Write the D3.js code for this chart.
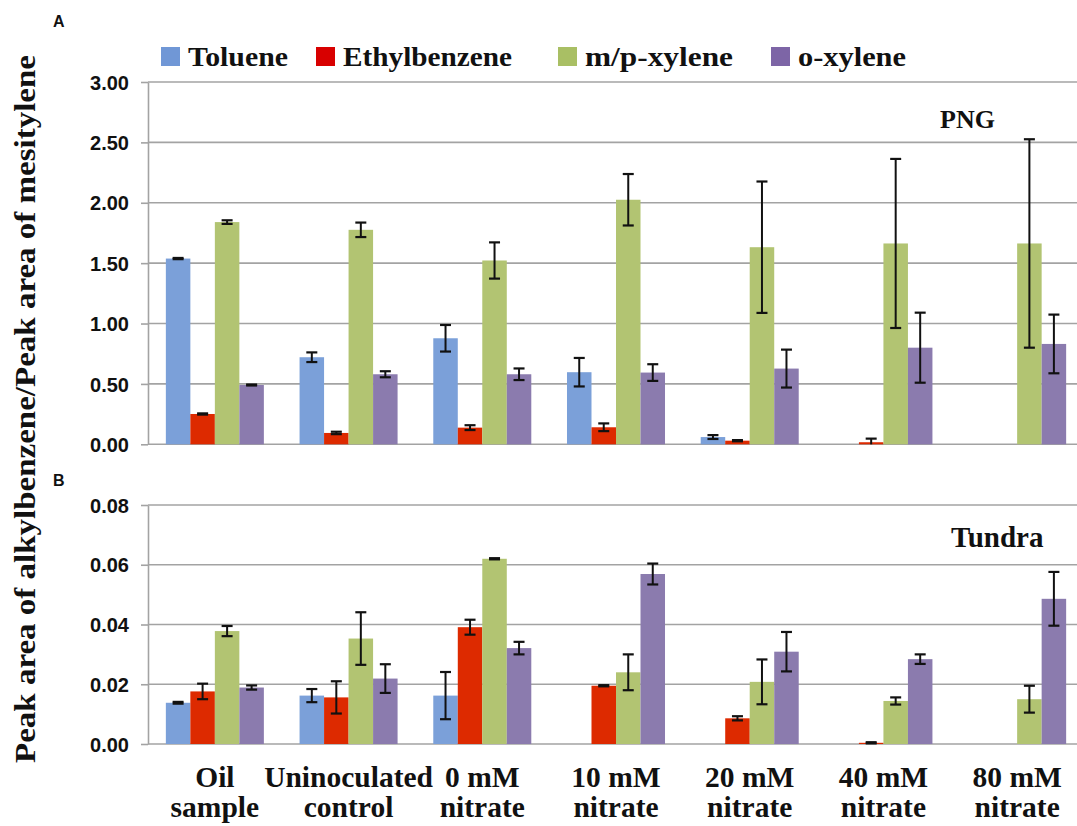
<!DOCTYPE html>
<html>
<head>
<meta charset="utf-8">
<script src="https://cdn.jsdelivr.net/npm/d3@7"></script>
<style>
  html, body { margin: 0; padding: 0; background: #ffffff; }
  svg { display: block; }
</style>
</head>
<body>
<svg id="chart" width="1077" height="826"></svg>
<script>
// Group categories (two-line x labels)
const categories = ["Oil sample", "Uninoculated control", "0 mM nitrate", "10 mM nitrate",
                    "20 mM nitrate", "40 mM nitrate", "80 mM nitrate"];
const categoryLines = [["Oil", "sample"], ["Uninoculated", "control"], ["0 mM", "nitrate"],
                       ["10 mM", "nitrate"], ["20 mM", "nitrate"], ["40 mM", "nitrate"], ["80 mM", "nitrate"]];
const seriesNames = ["Toluene", "Ethylbenzene", "m/p-xylene", "o-xylene"];

// Panel A: PNG (means and error)
const pngToluene      = [1.538, 0.721, 0.878, 0.597, 0.060, 0, 0];
const pngTolueneErr   = [0.005, 0.040, 0.110, 0.118, 0.016, 0, 0];
const pngEthyl        = [0.251, 0.094, 0.138, 0.141, 0.030, 0.017, 0];
const pngEthylErr     = [0.005, 0.010, 0.020, 0.032, 0.005, 0.030, 0];
const pngMPXylene     = [1.840, 1.776, 1.522, 2.025, 1.632, 1.663, 1.663];
const pngMPXyleneErr  = [0.015, 0.060, 0.150, 0.213, 0.544, 0.700, 0.863];
const pngOXylene      = [0.491, 0.580, 0.580, 0.594, 0.627, 0.800, 0.831];
const pngOXyleneErr   = [0.004, 0.025, 0.048, 0.069, 0.157, 0.290, 0.243];
const pngTicks        = [0, 0.5, 1.0, 1.5, 2.0, 2.5, 3.0];

// Panel B: Tundra (means and error)
const tunToluene      = [0.0138, 0.0162, 0.0162, 0, 0, 0, 0];
const tunTolueneErr   = [0.0003, 0.0022, 0.0079, 0, 0, 0, 0];
const tunEthyl        = [0.0176, 0.0156, 0.0391, 0.0195, 0.0086, 0.0004, 0];
const tunEthylErr     = [0.0026, 0.0054, 0.0025, 0.0002, 0.0007, 0.0002, 0];
const tunMPXylene     = [0.0378, 0.0353, 0.0620, 0.0240, 0.0208, 0.0144, 0.0150];
const tunMPXyleneErr  = [0.0017, 0.0088, 0.0002, 0.0060, 0.0075, 0.0012, 0.0045];
const tunOXylene      = [0.0189, 0.0219, 0.0321, 0.0569, 0.0309, 0.0284, 0.0486];
const tunOXyleneErr   = [0.0007, 0.0048, 0.0021, 0.0035, 0.0066, 0.0016, 0.0090];
const tunTicks        = [0, 0.02, 0.04, 0.06, 0.08];

const barColors    = ["#7ba0d9", "#dd2a00", "#b2c472", "#8b7bae"];
const legendColors = ["#7097d6", "#d80000", "#a9bf64", "#7d65a6"];

const serifFont = "'Liberation Serif', 'Times New Roman', serif";
const sansFont  = "'Liberation Sans', Arial, sans-serif";

const svg = d3.select("#chart");
const plotLeft = 148, plotRight = 1084;

const x0 = d3.scaleBand().domain(categories).range([plotLeft, plotRight])
  .paddingInner(0.267).paddingOuter(0.1335);
const x1 = d3.scaleBand().domain(seriesNames).range([0, x0.bandwidth()]);

function drawPanel(cfg) {
  const y = d3.scaleLinear().domain([0, cfg.max]).range([cfg.bottom, cfg.top]);
  const g = svg.append("g");

  // gridlines
  g.selectAll("line.grid").data(cfg.ticks).join("line")
    .attr("x1", plotLeft).attr("x2", 1077)
    .attr("y1", d => y(d)).attr("y2", d => y(d))
    .attr("stroke", "#a3a3a3").attr("stroke-width", 1.6);

  // left axis with outward ticks
  const axis = d3.axisLeft(y).tickValues(cfg.ticks).tickFormat(d3.format(".2f"))
    .tickSize(7).tickSizeOuter(0).tickPadding(12);
  const ag = g.append("g").attr("transform", `translate(${plotLeft},0)`).call(axis);
  ag.select(".domain").attr("stroke", "#a3a3a3").attr("stroke-width", 1.6);
  ag.selectAll(".tick line").attr("stroke", "#a3a3a3").attr("stroke-width", 1.6);
  ag.selectAll(".tick text").attr("fill", "#111").attr("font-family", sansFont)
    .attr("font-weight", "bold").attr("font-size", 20).attr("dy", "0.36em");

  const rows = [];
  categories.forEach((c, i) => {
    cfg.series.forEach((s, j) => {
      rows.push({ cat: c, name: seriesNames[j], v: s.v[i], e: s.e[i], color: barColors[j] });
    });
  });

  // bars
  g.selectAll("rect.bar").data(rows.filter(d => d.v > 0)).join("rect")
    .attr("x", d => x0(d.cat) + x1(d.name))
    .attr("y", d => y(d.v))
    .attr("width", x1.bandwidth())
    .attr("height", d => y(0) - y(d.v))
    .attr("fill", d => d.color);

  // error bars
  const eb = g.selectAll("g.err").data(rows.filter(d => d.v > 0)).join("g")
    .attr("transform", d => `translate(${x0(d.cat) + x1(d.name) + x1.bandwidth() / 2},0)`);
  eb.append("line")
    .attr("y1", d => y(d.v + d.e)).attr("y2", d => y(Math.max(0, d.v - d.e)))
    .attr("stroke", "#111").attr("stroke-width", 2);
  eb.append("line")
    .attr("x1", -5.5).attr("x2", 5.5)
    .attr("y1", d => y(d.v + d.e)).attr("y2", d => y(d.v + d.e))
    .attr("stroke", "#111").attr("stroke-width", 2.2);
  eb.filter(d => d.v - d.e > 0).append("line")
    .attr("x1", -5.5).attr("x2", 5.5)
    .attr("y1", d => y(d.v - d.e)).attr("y2", d => y(d.v - d.e))
    .attr("stroke", "#111").attr("stroke-width", 2.2);

  // panel site title
  g.append("text").attr("x", cfg.titleX).attr("y", cfg.titleY)
    .attr("font-family", serifFont).attr("font-weight", "bold").attr("font-size", cfg.titleSize)
    .attr("fill", "#111").text(cfg.title);

  // panel letter
  g.append("text").attr("x", 53).attr("y", cfg.letterY)
    .attr("font-family", sansFont).attr("font-weight", "bold").attr("font-size", 16)
    .attr("fill", "#111").text(cfg.letter);
}

drawPanel({
  top: 82, bottom: 444.3, max: 3.0, ticks: pngTicks,
  series: [
    { v: pngToluene, e: pngTolueneErr },
    { v: pngEthyl, e: pngEthylErr },
    { v: pngMPXylene, e: pngMPXyleneErr },
    { v: pngOXylene, e: pngOXyleneErr }
  ],
  title: "PNG", titleX: 940, titleY: 128, titleSize: 26, letter: "A", letterY: 27
});

drawPanel({
  top: 505, bottom: 744, max: 0.08, ticks: tunTicks,
  series: [
    { v: tunToluene, e: tunTolueneErr },
    { v: tunEthyl, e: tunEthylErr },
    { v: tunMPXylene, e: tunMPXyleneErr },
    { v: tunOXylene, e: tunOXyleneErr }
  ],
  title: "Tundra", titleX: 951, titleY: 547, titleSize: 29, letter: "B", letterY: 486
});

// category labels under panel B
const xl = svg.append("g").selectAll("text").data(categories).join("text")
  .attr("text-anchor", "middle")
  .attr("font-family", serifFont).attr("font-weight", "bold").attr("font-size", 29.5)
  .attr("fill", "#111")
  .attr("transform", d => `translate(${x0(d) + x0.bandwidth() / 2},0)`);
xl.each(function (d, i) {
  d3.select(this).selectAll("tspan").data(categoryLines[i]).join("tspan")
    .attr("x", 0).attr("y", (t, k) => 787 + k * 30).text(t => t);
});

// legend
const legendX = [161, 316, 558, 771];
const legendTextWidth = [100, 169, 148, 108];
const lg = svg.append("g").selectAll("g").data(seriesNames).join("g")
  .attr("transform", (d, i) => `translate(${legendX[i]},0)`);
lg.append("rect").attr("x", 0).attr("y", 47).attr("width", 19).attr("height", 19)
  .attr("fill", (d, i) => legendColors[i]);
lg.append("text").attr("x", 27).attr("y", 66)
  .attr("font-family", serifFont).attr("font-weight", "bold").attr("font-size", 28)
  .attr("textLength", (d, i) => legendTextWidth[i]).attr("lengthAdjust", "spacingAndGlyphs")
  .attr("fill", "#111").text(d => d);

// y-axis title
svg.append("text")
  .attr("transform", "translate(35,409) rotate(-90)")
  .attr("text-anchor", "middle")
  .attr("font-family", serifFont).attr("font-weight", "bold").attr("font-size", 30)
  .attr("textLength", 708).attr("lengthAdjust", "spacingAndGlyphs")
  .attr("fill", "#111")
  .text("Peak area of alkylbenzene/Peak area of mesitylene");
</script>
</body>
</html>
